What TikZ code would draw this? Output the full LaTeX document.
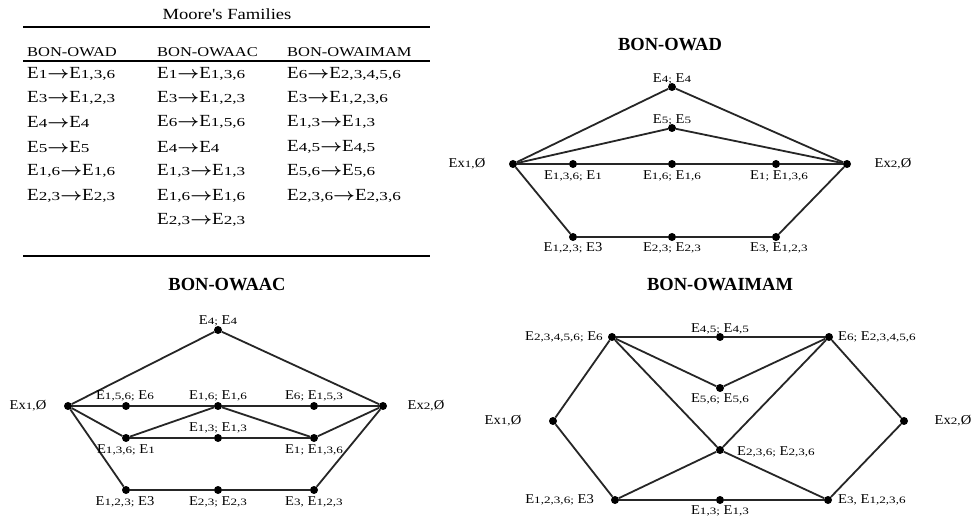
\RequirePackage{fix-cm}
\documentclass[tikz,border=0pt]{standalone}
\usepackage{fontspec}
\setmainfont{Liberation Serif}
\usepackage{amsmath}
\usepackage{graphicx}
\newcommand\Es[1]{E\scalebox{0.9}[0.72]{#1}}
\newcommand\Ra{$\boldsymbol{\rightarrow}$}
\newcommand\Wd[1]{\scalebox{1.08}[1]{#1}}
\newcommand\Wc[1]{\scalebox{1.12}[1]{#1}}
\begin{document}
\begin{tikzpicture}[x=1pt,y=-1pt,
  dot/.style={circle,fill=black,inner sep=0pt,minimum size=8pt},
  edge/.style={line width=1.8pt,black!85},
  lbl/.style={font=\fontsize{13.5}{16}\selectfont,inner sep=0pt},
  ttl/.style={font=\fontsize{18.5}{22}\selectfont\bfseries},
  cell/.style={anchor=west,inner sep=0pt,font=\fontsize{17}{20}\selectfont},
  head/.style={anchor=west,inner sep=0pt,font=\fontsize{13.5}{16}\selectfont},
  rulethick/.style={line width=2pt}]
\path[fill=white] (0,0) rectangle (972,518);
\useasboundingbox (0,0) rectangle (972,518);

% ---------- table ----------
\node[inner sep=0pt,font=\fontsize{15.5}{18}\selectfont] (cap) at (227,14) {\scalebox{1.2}[1]{Moore\textquotesingle s Families}};
\draw[rulethick] (23,27) -- (430,27);
\node[head] (h1) at (27,52) {\scalebox{1.22}[1]{BON-OWAD}};
\node[head] (h2) at (157,52) {\scalebox{1.22}[1]{BON-OWAAC}};
\node[head] (h3) at (287,52) {\scalebox{1.22}[1]{BON-OWAIMAM}};
\draw[line width=1.6pt] (23,61) -- (430,61);
% column 1
\node[cell] (t11) at (27,74)  {\Wc{\Es{1}\Ra\Es{1,3,6}}};
\node[cell] (t12) at (27,98)  {\Wc{\Es{3}\Ra\Es{1,2,3}}};
\node[cell] (t13) at (27,122) {\Wc{\Es{4}\Ra\Es{4}}};
\node[cell] (t14) at (27,147) {\Wc{\Es{5}\Ra\Es{5}}};
\node[cell] (t15) at (27,171) {\Wc{\Es{1,6}\Ra\Es{1,6}}};
\node[cell] (t16) at (27,196) {\Wc{\Es{2,3}\Ra\Es{2,3}}};
% column 2
\node[cell] (t21) at (157,74)  {\Wc{\Es{1}\Ra\Es{1,3,6}}};
\node[cell] (t22) at (157,98)  {\Wc{\Es{3}\Ra\Es{1,2,3}}};
\node[cell] (t23) at (157,122) {\Wc{\Es{6}\Ra\Es{1,5,6}}};
\node[cell] (t24) at (157,147) {\Wc{\Es{4}\Ra\Es{4}}};
\node[cell] (t25) at (157,171) {\Wc{\Es{1,3}\Ra\Es{1,3}}};
\node[cell] (t26) at (157,196) {\Wc{\Es{1,6}\Ra\Es{1,6}}};
\node[cell] (t27) at (157,220) {\Wc{\Es{2,3}\Ra\Es{2,3}}};
% column 3
\node[cell] (t31) at (287,74)  {\Wc{\Es{6}\Ra\Es{2,3,4,5,6}}};
\node[cell] (t32) at (287,98)  {\Wc{\Es{3}\Ra\Es{1,2,3,6}}};
\node[cell] (t33) at (287,122) {\Wc{\Es{1,3}\Ra\Es{1,3}}};
\node[cell] (t34) at (287,147) {\Wc{\Es{4,5}\Ra\Es{4,5}}};
\node[cell] (t35) at (287,171) {\Wc{\Es{5,6}\Ra\Es{5,6}}};
\node[cell] (t36) at (287,196) {\Wc{\Es{2,3,6}\Ra\Es{2,3,6}}};
\draw[rulethick] (23,256) -- (430,256);

% ---------- BON-OWAD ----------
\node[ttl] (ta) at (670,45) {BON-OWAD};
\node[dot] (aex1) at (513,164) {};
\node[dot] (aex2) at (847,164) {};
\node[dot] (a4) at (672,87) {};
\node[dot] (a5) at (672,128) {};
\node[dot] (a136) at (573,164) {};
\node[dot] (a16) at (672,164) {};
\node[dot] (a1) at (776,164) {};
\node[dot] (a123) at (573,237) {};
\node[dot] (a23) at (672,237) {};
\node[dot] (a3) at (776,237) {};
\draw[edge] (aex1) -- (a4) -- (aex2);
\draw[edge] (aex1) -- (a5) -- (aex2);
\draw[edge] (aex1) -- (a136) -- (a16) -- (a1) -- (aex2);
\draw[edge] (aex1) -- (a123) -- (a23) -- (a3) -- (aex2);
\node[lbl] (la1) at (467,164) {\Wd{Ex\scalebox{0.9}[0.72]{1,}Ø}};
\node[lbl] (la2) at (893,164) {\Wd{Ex\scalebox{0.9}[0.72]{2,}Ø}};
\node[lbl] (la4) at (672,79) {\Wd{\Es{4;}~\Es{4}}};
\node[lbl] (la5) at (672,120) {\Wd{\Es{5;}~\Es{5}}};
\node[lbl] (la136) at (573,176) {\Wd{\Es{1,3,6;}~\Es{1}}};
\node[lbl] (la16) at (672,176) {\Wd{\Es{1,6;}~\Es{1,6}}};
\node[lbl] (la1b) at (779,176) {\Wd{\Es{1;}~\Es{1,3,6}}};
\node[lbl] (la123) at (573,248) {\Wd{\Es{1,2,3;}~E3}};
\node[lbl] (la23) at (672,248) {\Wd{\Es{2,3;}~\Es{2,3}}};
\node[lbl] (la3) at (779,248) {\Wd{\Es{3,}~\Es{1,2,3}}};

% ---------- BON-OWAAC ----------
\node[ttl] (tb) at (227,285) {BON-OWAAC};
\node[dot] (bex1) at (68,406) {};
\node[dot] (bex2) at (383,406) {};
\node[dot] (b4) at (218,330) {};
\node[dot] (m1) at (126,406) {};
\node[dot] (m2) at (218,406) {};
\node[dot] (m3) at (314,406) {};
\node[dot] (r1) at (126,438) {};
\node[dot] (r2) at (218,438) {};
\node[dot] (r3) at (314,438) {};
\node[dot] (q1) at (126,490) {};
\node[dot] (q2) at (218,490) {};
\node[dot] (q3) at (314,490) {};
\draw[edge] (bex1) -- (b4) -- (bex2);
\draw[edge] (bex1) -- (m1) -- (m2) -- (m3) -- (bex2);
\draw[edge] (bex1) -- (r1) -- (r2) -- (r3) -- (bex2);
\draw[edge] (r1) -- (m2) -- (r3);
\draw[edge] (bex1) -- (q1) -- (q2) -- (q3) -- (bex2);
\node[lbl] (lb1) at (28,406) {\Wd{Ex\scalebox{0.9}[0.72]{1,}Ø}};
\node[lbl] (lb2) at (426,406) {\Wd{Ex\scalebox{0.9}[0.72]{2,}Ø}};
\node[lbl] (lb4) at (218,321) {\Wd{\Es{4;}~\Es{4}}};
\node[lbl] (lm1) at (125,396) {\Wd{\Es{1,5,6;}~\Es{6}}};
\node[lbl] (lm2) at (218,396) {\Wd{\Es{1,6;}~\Es{1,6}}};
\node[lbl] (lm3) at (314,396) {\Wd{\Es{6;}~\Es{1,5,3}}};
\node[lbl] (lr1) at (126,450) {\Wd{\Es{1,3,6;}~\Es{1}}};
\node[lbl] (lr2) at (218,428) {\Wd{\Es{1,3;}~\Es{1,3}}};
\node[lbl] (lr3) at (314,450) {\Wd{\Es{1;}~\Es{1,3,6}}};
\node[lbl] (lq1) at (125,502) {\Wd{\Es{1,2,3;}~E3}};
\node[lbl] (lq2) at (218,502) {\Wd{\Es{2,3;}~\Es{2,3}}};
\node[lbl] (lq3) at (314,502) {\Wd{\Es{3,}~\Es{1,2,3}}};

% ---------- BON-OWAIMAM ----------
\node[ttl] (tc) at (720,285) {BON-OWAIMAM};
\node[dot] (cex1) at (553,421) {};
\node[dot] (cex2) at (904,421) {};
\node[dot] (tl) at (612,337) {};
\node[dot] (tm) at (720,337) {};
\node[dot] (tr) at (829,337) {};
\node[dot] (c56) at (720,388) {};
\node[dot] (cc) at (720,450) {};
\node[dot] (bl) at (615,500) {};
\node[dot] (bm) at (720,500) {};
\node[dot] (br) at (828,500) {};
\draw[edge] (cex1) -- (tl) -- (tm) -- (tr) -- (cex2);
\draw[edge] (cex1) -- (bl) -- (bm) -- (br) -- (cex2);
\draw[edge] (tl) -- (c56) -- (tr);
\draw[edge] (tl) -- (cc) -- (br);
\draw[edge] (tr) -- (cc) -- (bl);
\node[lbl] (lc1) at (503,421) {\Wd{Ex\scalebox{0.9}[0.72]{1,}Ø}};
\node[lbl] (lc2) at (953,421) {\Wd{Ex\scalebox{0.9}[0.72]{2,}Ø}};
\node[lbl,anchor=east] (ltl) at (603,337) {\Wd{\Es{2,3,4,5,6;}~\Es{6}}};
\node[lbl] (ltm) at (720,329) {\Wd{\Es{4,5;}~\Es{4,5}}};
\node[lbl,anchor=west] (ltr) at (838,337) {\Wd{\Es{6;}~\Es{2,3,4,5,6}}};
\node[lbl] (l56) at (720,399) {\Wd{\Es{5,6;}~\Es{5,6}}};
\node[lbl,anchor=west] (lcc) at (737,452) {\Wd{\Es{2,3,6;}~\Es{2,3,6}}};
\node[lbl,anchor=east] (lbl1) at (594,500) {\Wd{\Es{1,2,3,6;}~E3}};
\node[lbl] (lbm) at (720,511) {\Wd{\Es{1,3;}~\Es{1,3}}};
\node[lbl,anchor=west] (lbr) at (838,500) {\Wd{\Es{3,}~\Es{1,2,3,6}}};
\end{tikzpicture}
\end{document}
